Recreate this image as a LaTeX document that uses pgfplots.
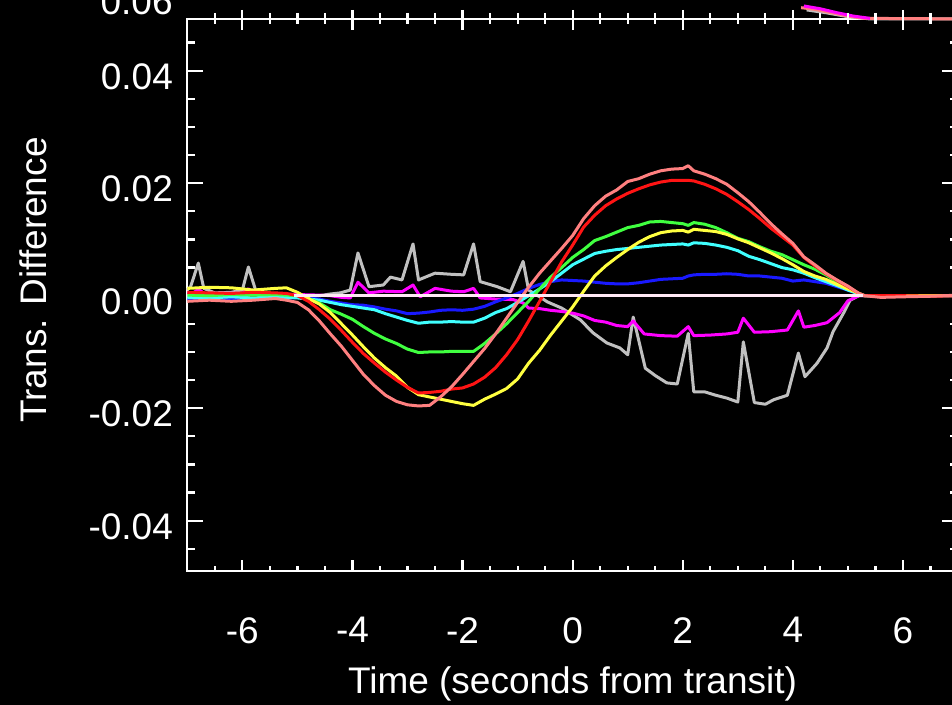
\documentclass[border=0pt]{standalone}
\usepackage{fontspec}
\setmainfont{Liberation Sans}
\usepackage{pgfplots}
\usepackage{pgfplotstable}
\pgfplotsset{compat=1.18}

\definecolor{cgray}{RGB}{192,192,192}
\definecolor{cmag}{RGB}{255,0,255}
\definecolor{cblue}{RGB}{25,25,255}
\definecolor{ccyan}{RGB}{64,255,255}
\definecolor{cgreen}{RGB}{64,255,64}
\definecolor{cyel}{RGB}{255,255,64}
\definecolor{cred}{RGB}{255,20,20}
\definecolor{cpink}{RGB}{255,128,128}
\definecolor{cwhite}{RGB}{255,232,245}

\newcommand{\bigfont}{\fontsize{18.5}{22}\selectfont}

\pgfplotsset{
  panel/.style={at={(93.65pt,67pt)}, anchor=south west, scale only axis,
    width=385.35pt, height=276pt,
    xmin=-7, xmax=7, ymin=-0.04894, ymax=0.04919,
    scaled x ticks=false, scaled y ticks=false},
  curve/.style={line width=1.5pt, line join=round, mark=none},
}

% x  pink  red  green  yellow  cyan  blue
\pgfplotstableread{
x     P       R       G       Y       C       B
-7.0 -0.0010  0.0006  0.0001  0.0013 -0.0003 -0.0006
-6.6 -0.0008  0.0005  0.0000  0.0015 -0.0004 -0.0006
-6.2 -0.0010  0.0004  0.0002  0.0014 -0.0002 -0.0005
-5.8 -0.0008  0.0006  0.0001  0.0010 -0.0004 -0.0006
-5.4 -0.0005  0.0005  0.0002  0.0013 -0.0002 -0.0004
-5.2 -0.0008  0.0004  0.0001  0.0014 -0.0003 -0.0005
-5.0 -0.0012  0.0000  0.0000  0.0006 -0.0004 -0.0003
-4.8 -0.0025 -0.0010 -0.0005 -0.0005 -0.0006 -0.0004
-4.6 -0.0045 -0.0025 -0.0013 -0.0015 -0.0008 -0.0006
-4.4 -0.0068 -0.0042 -0.0025 -0.0030 -0.0012 -0.0010
-4.2 -0.0090 -0.0062 -0.0033 -0.0050 -0.0016 -0.0013
-4.0 -0.0115 -0.0083 -0.0042 -0.0070 -0.0019 -0.0016
-3.8 -0.0140 -0.0103 -0.0055 -0.0091 -0.0022 -0.0017
-3.6 -0.0160 -0.0120 -0.0067 -0.0111 -0.0025 -0.0020
-3.4 -0.0177 -0.0136 -0.0077 -0.0128 -0.0032 -0.0024
-3.2 -0.0188 -0.0150 -0.0085 -0.0143 -0.0038 -0.0027
-3.0 -0.0194 -0.0163 -0.0095 -0.0163 -0.0044 -0.0032
-2.8 -0.0196 -0.0173 -0.0101 -0.0176 -0.0049 -0.0031
-2.6 -0.0195 -0.0172 -0.0100 -0.0180 -0.0047 -0.0029
-2.4 -0.0180 -0.0170 -0.0100 -0.0184 -0.0047 -0.0026
-2.2 -0.0162 -0.0166 -0.0099 -0.0188 -0.0046 -0.0025
-2.0 -0.0140 -0.0164 -0.0099 -0.0192 -0.0047 -0.0026
-1.8 -0.0117 -0.0157 -0.0099 -0.0195 -0.0047 -0.0024
-1.6 -0.0094 -0.0145 -0.0085 -0.0184 -0.0040 -0.0019
-1.4 -0.0068 -0.0128 -0.0068 -0.0175 -0.0030 -0.0011
-1.2 -0.0040 -0.0105 -0.0050 -0.0165 -0.0023 -0.0004
-1.0 -0.0012 -0.0078 -0.0030 -0.0148 -0.0012  0.0004
-0.8  0.0015 -0.0045 -0.0010 -0.0120  0.0000  0.0013
-0.6  0.0040 -0.0010  0.0012 -0.0097  0.0012  0.0020
-0.4  0.0062  0.0025  0.0033 -0.0070  0.0025  0.0025
-0.2  0.0084  0.0060  0.0050 -0.0045  0.0040  0.0028
 0.0  0.0107  0.0090  0.0068 -0.0020  0.0055  0.0027
 0.2  0.0137  0.0122  0.0082  0.0008  0.0065  0.0026
 0.4  0.0160  0.0143  0.0098  0.0035  0.0075  0.0024
 0.6  0.0177  0.0160  0.0105  0.0053  0.0079  0.0022
 0.8  0.0188  0.0172  0.0113  0.0068  0.0082  0.0021
 1.0  0.0203  0.0182  0.0121  0.0082  0.0084  0.0021
 1.2  0.0208  0.0190  0.0125  0.0095  0.0086  0.0023
 1.4  0.0216  0.0197  0.0131  0.0105  0.0088  0.0026
 1.6  0.0222  0.0202  0.0132  0.0112  0.0090  0.0029
 1.8  0.0225  0.0205  0.0130  0.0115  0.0091  0.0030
 2.0  0.0226  0.0205  0.0128  0.0116  0.0092  0.0031
 2.1  0.0231  0.0205  0.0125  0.0113  0.0090  0.0035
 2.2  0.0222  0.0204  0.0130  0.0118  0.0094  0.0037
 2.4  0.0216  0.0198  0.0127  0.0116  0.0093  0.0038
 2.6  0.0208  0.0190  0.0121  0.0114  0.0090  0.0038
 2.8  0.0198  0.0180  0.0112  0.0109  0.0086  0.0039
 3.0  0.0183  0.0167  0.0102  0.0101  0.0080  0.0038
 3.2  0.0167  0.0153  0.0096  0.0094  0.0070  0.0035
 3.4  0.0148  0.0137  0.0087  0.0085  0.0064  0.0035
 3.6  0.0128  0.0120  0.0079  0.0076  0.0057  0.0033
 3.8  0.0110  0.0105  0.0073  0.0066  0.0050  0.0031
 4.0  0.0093  0.0090  0.0064  0.0055  0.0046  0.0026
 4.2  0.0069  0.0068  0.0055  0.0043  0.0040  0.0028
 4.4  0.0055  0.0053  0.0047  0.0035  0.0032  0.0025
 4.6  0.0040  0.0039  0.0037  0.0029  0.0025  0.0022
 4.8  0.0028  0.0027  0.0025  0.0020  0.0018  0.0016
 5.0  0.0017  0.0016  0.0014  0.0012  0.0010  0.0010
 5.2  0.0004  0.0004  0.0004  0.0004  0.0003  0.0003
 5.3  0.0000  0.0000  0.0000  0.0000  0.0000  0.0000
 5.6 -0.0003  0.0000  0.0000  0.0000  0.0000  0.0000
 6.0 -0.0002  0.0000  0.0000  0.0000  0.0000  0.0000
 6.5 -0.0001 -0.0001  0.0000  0.0000  0.0000  0.0000
 7.0  0.0001  0.0000  0.0000  0.0000  0.0000  0.0000
}\curves

\begin{document}
\begin{tikzpicture}
\useasboundingbox (0,0) rectangle (476pt,352.5pt);
\fill[black] (0,0) rectangle (476pt,352.5pt);

% main panel: data, box, y ticks
\begin{axis}[panel, clip=false,
    axis line style={white, line width=1.1pt},
    xtick=\empty,
    ytick={-0.04,-0.02,0,0.02,0.04},
    yticklabels={-0.04,-0.02,0.00,0.02,0.04},
    minor ytick={-0.045,-0.035,-0.03,-0.025,-0.015,-0.01,-0.005,0.005,0.01,0.015,0.025,0.03,0.035,0.045},
    ytick pos=both, yticklabel pos=left, tick align=inside,
    major tick length=8pt, minor tick length=4pt,
    tick style={white, line width=1.1pt},
    yticklabel style={font=\bigfont, text=white, anchor=east, inner sep=0pt, xshift=-7pt, yshift=-3pt},
]
\addplot[curve, cgray] coordinates {
  (-7.0,0.0010) (-6.94,0.0016) (-6.8,0.0058) (-6.7,0.0013) (-6.5,0.0005) (-6.2,0.0006)
  (-6.0,0.0010) (-5.89,0.0051) (-5.76,0.0010) (-5.5,0.0003) (-5.0,0.0000) (-4.6,0.0000)
  (-4.4,0.0003) (-4.22,0.0005) (-4.04,0.0010) (-3.9,0.0076) (-3.7,0.0016) (-3.44,0.0019)
  (-3.31,0.0033) (-3.1,0.0028) (-2.9,0.0092) (-2.8,0.0028) (-2.5,0.0040) (-2.2,0.0038)
  (-1.98,0.0037) (-1.8,0.0092) (-1.68,0.0025) (-1.37,0.0016) (-1.13,0.0007) (-0.9,0.0061)
  (-0.8,0.0010) (-0.6,-0.0002) (-0.46,-0.0011) (-0.2,-0.0022) (0.14,-0.0043) (0.37,-0.0066)
  (0.62,-0.0084) (0.86,-0.0093) (1.0,-0.0105) (1.1,-0.0038) (1.32,-0.0129) (1.5,-0.0142)
  (1.71,-0.0155) (1.9,-0.0157) (2.1,-0.0067) (2.2,-0.0171) (2.4,-0.0171) (2.6,-0.0177)
  (2.8,-0.0182) (3.0,-0.0189) (3.1,-0.0082) (3.3,-0.0190) (3.5,-0.0193) (3.65,-0.0185)
  (3.9,-0.0177) (4.1,-0.0102) (4.22,-0.0144) (4.44,-0.0120) (4.62,-0.0093) (4.73,-0.0064)
  (4.92,-0.0031) (5.04,-0.0008) (5.2,0.0000) (7.0,0.0000)
};
\addplot[curve, cmag] coordinates {
  (-7.0,0.0005) (-6.9,0.0004) (-6.8,0.0012) (-6.7,0.0004) (-6.2,0.0004) (-6.0,0.0004)
  (-5.89,0.0012) (-5.76,0.0004) (-5.4,0.0003) (-5.0,0.0002) (-4.6,0.0001) (-4.4,0.0000)
  (-4.2,-0.0003) (-4.04,-0.0004) (-3.9,0.0024) (-3.7,0.0005) (-3.44,0.0008) (-3.1,0.0007)
  (-2.9,0.0019) (-2.77,-0.0002) (-2.5,0.0013) (-2.2,0.0008) (-1.98,0.0007) (-1.8,0.0013)
  (-1.68,-0.0004) (-1.4,-0.0006) (-1.08,-0.0007) (-0.9,-0.0013) (-0.8,-0.0022) (-0.6,-0.0023)
  (-0.4,-0.0026) (-0.2,-0.0028) (0.0,-0.0031) (0.2,-0.0036) (0.4,-0.0044) (0.6,-0.0047)
  (0.8,-0.0053) (1.0,-0.0055) (1.1,-0.0045) (1.3,-0.0068) (1.6,-0.0071) (1.9,-0.0072)
  (2.1,-0.0055) (2.2,-0.0071) (2.5,-0.0070) (2.8,-0.0068) (3.0,-0.0065) (3.1,-0.0040)
  (3.3,-0.0065) (3.6,-0.0064) (3.9,-0.0061) (4.1,-0.0027) (4.2,-0.0056) (4.4,-0.0053)
  (4.62,-0.0048) (4.85,-0.0030) (5.0,-0.0009) (5.2,0.0000) (7.0,0.0000)
};
\addplot[curve, cblue] table[x=x, y=B] {\curves};
\addplot[curve, ccyan] table[x=x, y=C] {\curves};
\addplot[curve, cgreen] table[x=x, y=G] {\curves};
\addplot[curve, cyel] table[x=x, y=Y] {\curves};
\addplot[curve, cred] table[x=x, y=R] {\curves};
\addplot[curve, cpink] table[x=x, y=P] {\curves};
\addplot[curve, cwhite] coordinates {(-5.07,0) (5.28,0)};
% remnants of the panel above, crossing the top edge
\addplot[curve, cgray] coordinates {(4.25,0.0508) (4.6,0.0503) (5.0,0.0496) (5.4,0.0492) (7.0,0.0492)};
\addplot[curve, cpink] coordinates {(4.15,0.0512) (4.4,0.0509) (4.7,0.0503) (5.0,0.0497) (5.3,0.0493) (7.0,0.0492)};
\addplot[curve, cmag] coordinates {(4.2,0.0515) (4.5,0.0510) (4.8,0.0503) (5.1,0.0497) (5.4,0.0493)};
\end{axis}

% x ticks and labels
\begin{axis}[panel,
    axis line style={draw=none},
    ytick=\empty,
    xtick={-6,-4,-2,0,2,4,6},
    xticklabels={-6,-4,-2,0,2,4,6},
    minor xtick={-6.5,-5.5,-5,-4.5,-3.5,-3,-2.5,-1.5,-1,-0.5,0.5,1,1.5,2.5,3,3.5,4.5,5,5.5,6.5},
    xtick pos=both, xticklabel pos=left, tick align=inside,
    major tick length=5.5pt, minor tick length=2.5pt,
    tick style={white, line width=1.1pt},
    xticklabel style={font=\bigfont, text=white, anchor=north, inner sep=0pt, yshift=-23pt},
]
\end{axis}

% ticks of the panel above, pointing up from the top edge
\begin{axis}[panel,
    axis line style={draw=none},
    ytick=\empty,
    xtick={-6,-4,-2,0,2,4,6},
    xticklabel={},
    xticklabel pos=left,
    xticklabel style={inner sep=0pt},
    minor xtick={-6.5,-5.5,-5,-4.5,-3.5,-3,-2.5,-1.5,-1,-0.5,0.5,1,1.5,2.5,3,3.5,4.5,5,5.5,6.5},
    xtick pos=right, tick align=outside,
    major tick length=4.5pt, minor tick length=3pt,
    tick style={white, line width=1.1pt},
]
\end{axis}

\node[rotate=90, anchor=base, text=white, font=\bigfont] at (23.5pt,212.5pt) {Trans. Difference};
\node[anchor=base, text=white, font=\bigfont] at (286.25pt,5.5pt) {Time (seconds from transit)};
\node[anchor=base east, text=white, font=\bigfont, inner sep=0pt] at (86.5pt,345pt) {0.06};
\end{tikzpicture}
\end{document}
